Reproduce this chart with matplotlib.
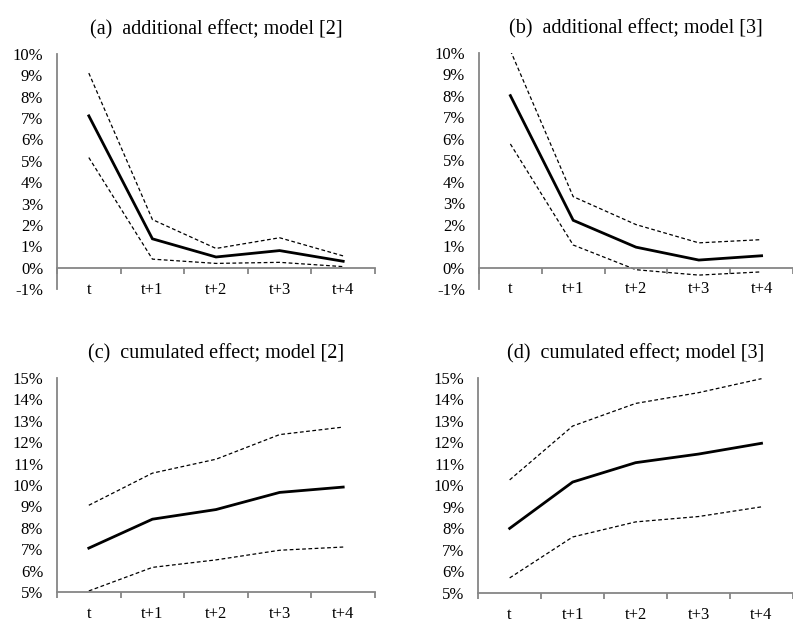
import matplotlib.pyplot as plt
from matplotlib.ticker import FixedLocator, FormatStrFormatter

plt.rcParams['font.family'] = ['Liberation Serif', 'DejaVu Serif']

periods = ["t", "t+1", "t+2", "t+3", "t+4"]

# additional effect, model [2]
add2_est = [7.1, 1.35, 0.5, 0.8, 0.3]
add2_hi = [9.1, 2.25, 0.9, 1.4, 0.55]
add2_lo = [5.15, 0.4, 0.2, 0.25, 0.05]

# additional effect, model [3]
add3_est = [8.0, 2.2, 0.95, 0.35, 0.55]
add3_hi = [10.1, 3.3, 2.0, 1.15, 1.3]
add3_lo = [5.75, 1.05, -0.1, -0.35, -0.2]

# cumulated effect, model [2]
cum2_est = [7.05, 8.4, 8.85, 9.65, 9.9]
cum2_hi = [9.05, 10.55, 11.2, 12.35, 12.7]
cum2_lo = [5.05, 6.15, 6.5, 6.95, 7.1]

# cumulated effect, model [3]
cum3_est = [8.0, 10.15, 11.05, 11.45, 11.95]
cum3_hi = [10.25, 12.75, 13.8, 14.3, 14.95]
cum3_lo = [5.7, 7.6, 8.3, 8.55, 9.0]

titles = ["(a)  additional effect; model [2]",
          "(b)  additional effect; model [3]",
          "(c)  cumulated effect; model [2]",
          "(d)  cumulated effect; model [3]"]

grey = "#868686"

fig = plt.figure(figsize=(7.93, 6.19), dpi=100)
axes = [
    fig.add_axes([0.0719, 0.533, 0.401, 0.380]),
    fig.add_axes([0.604, 0.533, 0.396, 0.382]),
    fig.add_axes([0.0719, 0.0436, 0.401, 0.346]),
    fig.add_axes([0.603, 0.042, 0.397, 0.348]),
]
panels = [
    (add2_est, add2_hi, add2_lo, (-1, 10), 0),
    (add3_est, add3_hi, add3_lo, (-1, 10), 0),
    (cum2_est, cum2_hi, cum2_lo, (5, 15), 5),
    (cum3_est, cum3_hi, cum3_lo, (5, 15), 5),
]

x = list(range(len(periods)))
for ax, title, (est, hi, lo, ylim, base) in zip(axes, titles, panels):
    ax.plot(x, hi, color="black", lw=0.9, ls=(0, (3, 2)))
    ax.plot(x, lo, color="black", lw=0.9, ls=(0, (3, 2)))
    ax.plot(x, est, color="black", lw=2.0, solid_joinstyle="miter")

    ax.set_xlim(-0.5, len(periods) - 0.5)
    ax.set_ylim(*ylim)
    ax.yaxis.set_major_locator(FixedLocator(range(ylim[0], ylim[1] + 1)))
    ax.yaxis.set_major_formatter(FormatStrFormatter("%d%%"))
    ax.set_xticks(x)
    ax.set_xticklabels(periods)
    ax.xaxis.set_minor_locator(FixedLocator([i - 0.5 for i in range(len(periods) + 1)]))

    for side in ("top", "right"):
        ax.spines[side].set_visible(False)
    ax.spines["left"].set_color(grey)
    ax.spines["left"].set_linewidth(1.3)
    ax.spines["bottom"].set_color(grey)
    ax.spines["bottom"].set_linewidth(1.3)
    ax.spines["bottom"].set_position(("data", base))

    ax.tick_params(axis="y", length=0, pad=10, labelsize=12)
    ax.tick_params(axis="x", which="major", length=0, pad=10, labelsize=12)
    ax.tick_params(axis="x", which="minor", length=4.5, width=1.3, color=grey,
                   direction="out")
    ax.set_title(title, fontsize=14.5, pad=14)

fig.savefig("out.png", dpi=100)
